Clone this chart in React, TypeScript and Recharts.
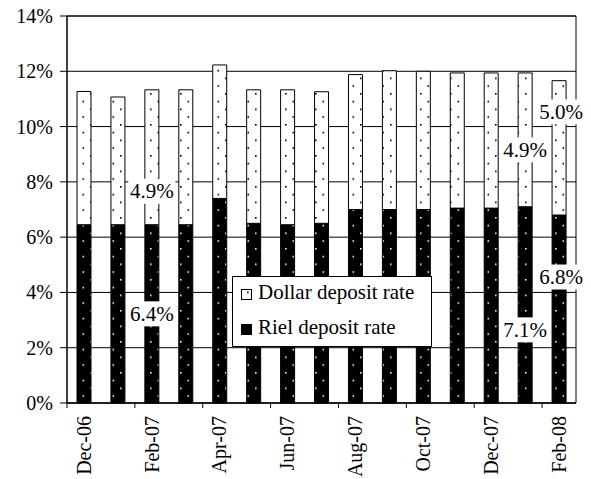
import React from 'react';
import {
  Bar,
  BarChart,
  CartesianGrid,
  LabelList,
  ReferenceArea,
  XAxis,
  YAxis,
} from 'recharts';

const months = [
  'Dec-06', 'Jan-07', 'Feb-07', 'Mar-07', 'Apr-07', 'May-07', 'Jun-07', 'Jul-07',
  'Aug-07', 'Sep-07', 'Oct-07', 'Nov-07', 'Dec-07', 'Jan-08', 'Feb-08',
];
const rielRate = [6.45, 6.45, 6.45, 6.45, 7.4, 6.5, 6.45, 6.5, 7.0, 7.0, 7.0, 7.05, 7.05, 7.1, 6.8];
const dollarRate = [4.82, 4.62, 4.88, 4.88, 4.83, 4.83, 4.88, 4.76, 4.88, 5.02, 5.0, 4.89, 4.89, 4.84, 4.86];
// data labels as printed on the chart (empty = none)
const rielLabels = ['', '', '6.4%', '', '', '', '', '', '', '', '', '', '', '7.1%', '6.8%'];
const dollarLabels = ['', '', '4.9%', '', '', '', '', '', '', '', '', '', '', '4.9%', '5.0%'];
const yTicks = [0, 2, 4, 6, 8, 10, 12, 14];

// labels were dragged around by hand in the original, nudge them vertically
const rielNudge: Record<number, number> = { 2: 0, 13: 25, 14: -32 };
const dollarNudge: Record<number, number> = { 2: 34, 13: 10, 14: -36 };

const data = months.map((m, i) => ({ month: m, riel: rielRate[i], dollar: dollarRate[i] }));

const FONT = '"Liberation Serif", "Times New Roman", serif';
const W = 591;
const H = 479;
const LEFT = 67;
const RIGHT = 15;
const BAND = (W - LEFT - RIGHT) / months.length;

const serif = { fontFamily: FONT };

const MonthTick = (props: any) => {
  const { x, y, payload } = props;
  const tx = x - BAND / 2;
  return (
    <g>
      <line x1={tx} x2={tx} y1={y} y2={y + 5} stroke="#000" />
      <text
        x={x}
        y={y + 13}
        dy="0.34em"
        transform={`rotate(-90, ${x}, ${y + 13})`}
        textAnchor="end"
        style={serif}
        fontSize={20}
        fill="#000"
      >
        {payload.value}
      </text>
    </g>
  );
};

const YTick = (props: any) => {
  const { x, y, payload } = props;
  return (
    <text x={x} y={y} dy="0.35em" textAnchor="end" style={serif} fontSize={20} fill="#000">
      {`${payload.value}%`}
    </text>
  );
};

const makeLabel = (texts: string[], nudge: Record<number, number>) => (props: any) => {
  const { x, y, width, height, index } = props;
  const txt = texts[index];
  if (!txt) return null;
  const cx = x + width / 2 + (index === 14 ? 2 : 0);
  const cy = y + height / 2 + (nudge[index] || 0);
  const bw = 47;
  const bh = 25;
  return (
    <g>
      <rect x={cx - bw / 2} y={cy - bh / 2} width={bw} height={bh} fill="#fff" />
      <text x={cx} y={cy + 7} textAnchor="middle" style={serif} fontSize={21} fill="#000">
        {txt}
      </text>
    </g>
  );
};

const LegendBox = () => (
  <svg width={200} height={71} style={{ position: 'absolute', left: 232, top: 276 }}>
    <rect x={0.5} y={0.5} width={199} height={70} fill="#fff" stroke="#000" />
    <rect x={9.5} y={13.5} width={10} height={10} fill="url(#dotsWhite)" stroke="#000" />
    <text x={26} y={23} style={serif} fontSize={21} fill="#000">
      Dollar deposit rate
    </text>
    <rect x={9.5} y={48.5} width={10} height={10} fill="url(#dotsBlack)" stroke="#000" />
    <text x={26} y={58} style={serif} fontSize={21} fill="#000">
      Riel deposit rate
    </text>
  </svg>
);

const App: React.FunctionComponent<any> = () => {
  return (
    <div style={{ position: 'absolute', left: 0, top: 0, width: W, height: H, background: '#fff', fontFamily: FONT }}>
      <svg width={0} height={0} style={{ position: 'absolute' }}>
        <defs>
          <pattern id="dotsWhite" patternUnits="userSpaceOnUse" width={15} height={15.5}>
            <rect width={15} height={15.5} fill="#fff" />
            <rect x={0} y={0} width={1.6} height={1.6} fill="#000" />
            <rect x={7.5} y={7.75} width={1.6} height={1.6} fill="#000" />
          </pattern>
          <pattern id="dotsBlack" patternUnits="userSpaceOnUse" width={15} height={15.5}>
            <rect width={15} height={15.5} fill="#000" />
            <rect x={0} y={0} width={1.6} height={1.6} fill="#eee" />
            <rect x={7.5} y={7.75} width={1.6} height={1.6} fill="#eee" />
          </pattern>
        </defs>
      </svg>
      <BarChart
        width={W}
        height={H}
        data={data}
        margin={{ top: 16, right: RIGHT, left: 0, bottom: 0 }}
        barSize={14}
      >
        <CartesianGrid vertical={false} stroke="#000" strokeWidth={1} />
        <XAxis
          dataKey="month"
          interval={1}
          height={76}
          tickLine={false}
          tickSize={0}
          tickMargin={0}
          axisLine={{ stroke: '#000' }}
          tick={<MonthTick />}
        />
        <YAxis
          width={LEFT}
          domain={[0, 14]}
          ticks={yTicks}
          axisLine={{ stroke: '#000' }}
          tickLine={{ stroke: '#000' }}
          tickSize={7}
          tickMargin={7}
          tick={<YTick />}
        />
        <ReferenceArea y1={0} y2={14} fill="none" stroke="#000" ifOverflow="visible" />
        <Bar dataKey="riel" stackId="a" fill="url(#dotsBlack)" stroke="#000" isAnimationActive={false}>
          <LabelList dataKey="riel" content={makeLabel(rielLabels, rielNudge)} />
        </Bar>
        <Bar dataKey="dollar" stackId="a" fill="url(#dotsWhite)" stroke="#000" isAnimationActive={false}>
          <LabelList dataKey="dollar" content={makeLabel(dollarLabels, dollarNudge)} />
        </Bar>
      </BarChart>
      <LegendBox />
    </div>
  );
};

export default App;
